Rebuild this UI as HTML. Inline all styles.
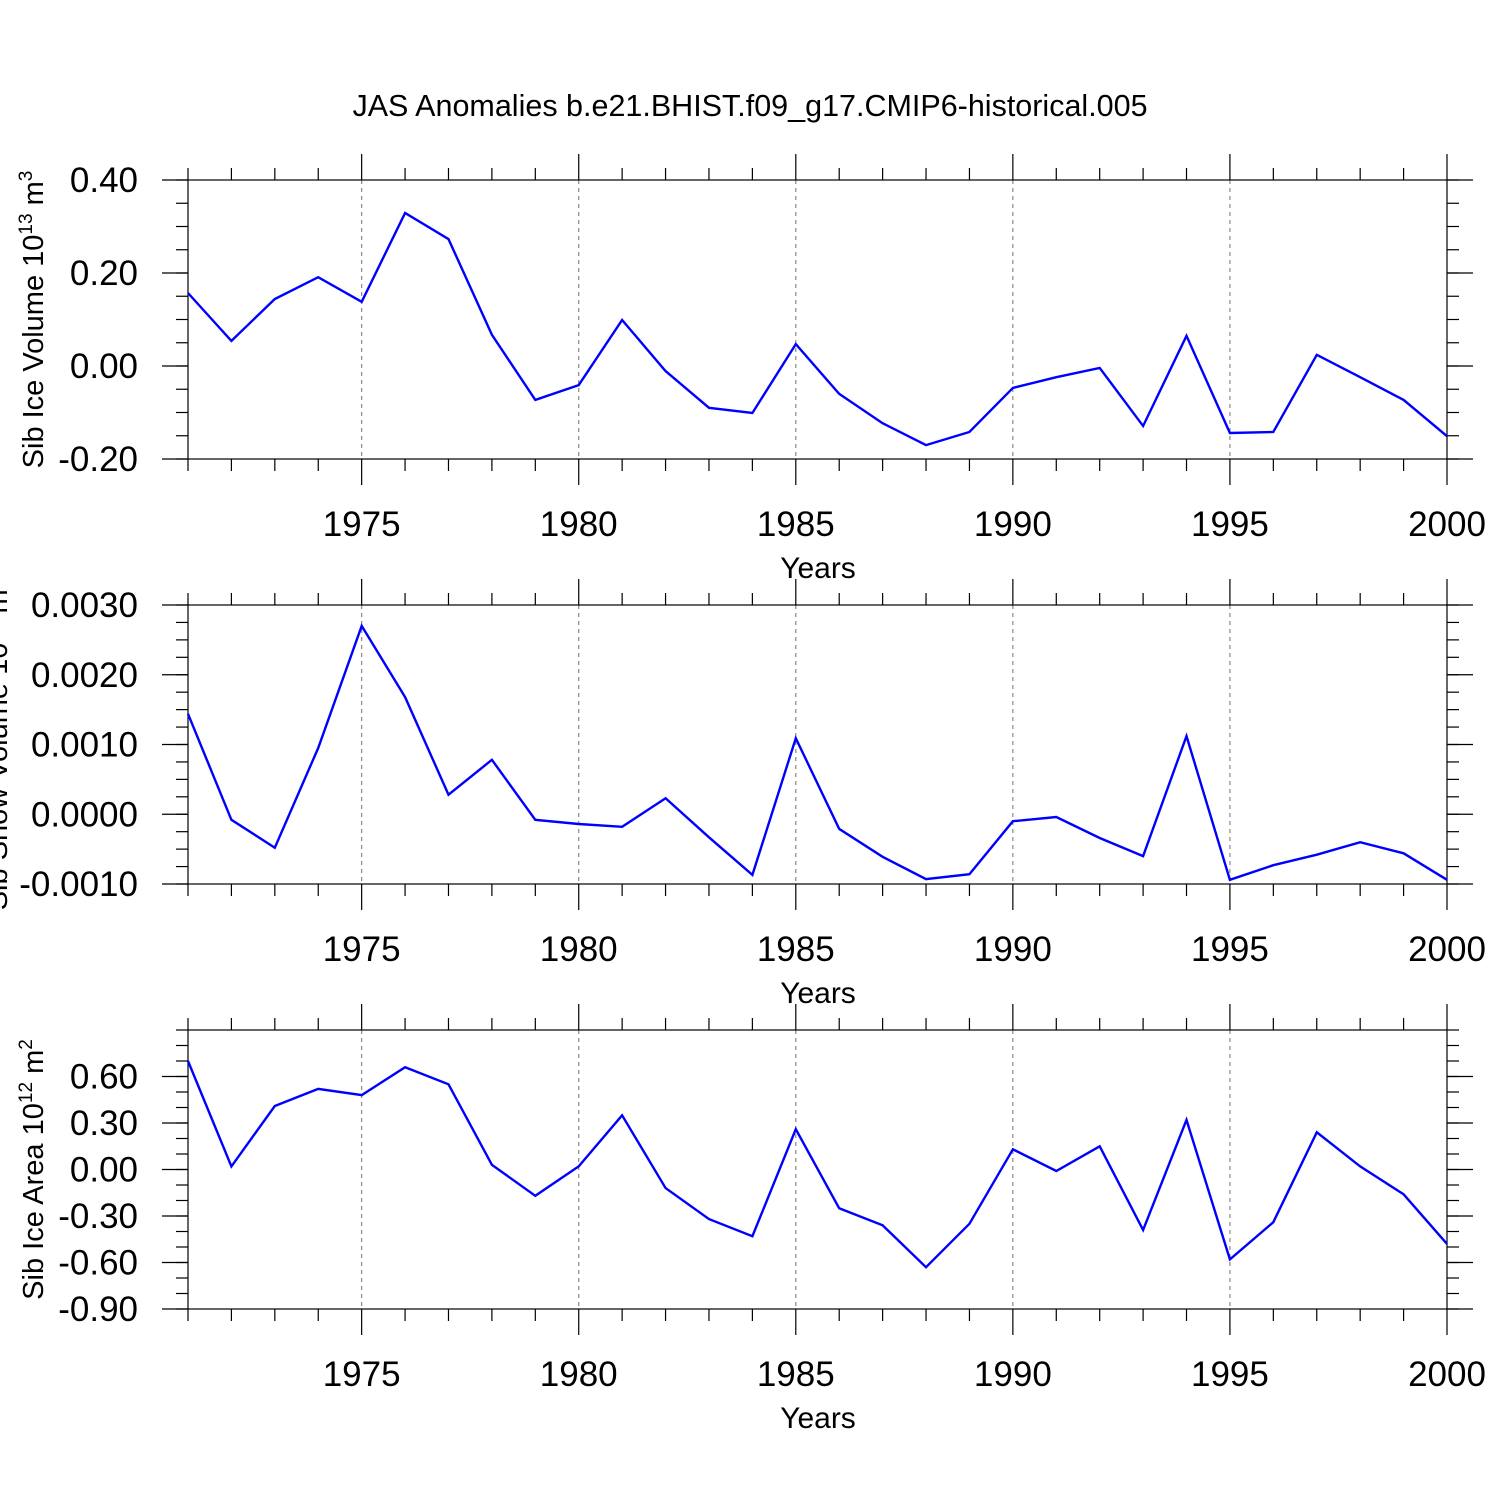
<!DOCTYPE html>
<html><head><meta charset="utf-8"><style>
html,body{margin:0;padding:0;background:#fff;}
svg{display:block;font-family:"Liberation Sans",Arial,sans-serif;}
</style></head><body>
<svg id="c" width="1500" height="1500" viewBox="0 0 1500 1500" xmlns="http://www.w3.org/2000/svg">
<text x="750" y="116" text-anchor="middle" font-size="30.5" fill="#000">JAS Anomalies b.e21.BHIST.f09_g17.CMIP6-historical.005</text>
</svg>
<script>
const years = [];
for (let y = 1971; y <= 2000; y++) years.push(y);
const iceVolume = [0.157,0.054,0.144,0.191,0.138,0.329,0.273,0.067,-0.073,-0.041,0.099,-0.011,-0.090,-0.101,0.047,-0.060,-0.123,-0.170,-0.142,-0.047,-0.024,-0.004,-0.129,0.065,-0.144,-0.142,0.024,-0.024,-0.073,-0.151];
const snowVolume = [0.00144,-0.00008,-0.00048,0.00095,0.0027,0.00168,0.00028,0.00078,-0.00008,-0.00014,-0.00018,0.00023,-0.00033,-0.00087,0.00109,-0.00021,-0.00061,-0.00093,-0.00086,-0.0001,-0.00004,-0.00034,-0.0006,0.00112,-0.00094,-0.00073,-0.00058,-0.0004,-0.00056,-0.00094];
const iceArea = [0.70,0.02,0.41,0.52,0.48,0.66,0.55,0.03,-0.17,0.02,0.35,-0.12,-0.32,-0.43,0.26,-0.25,-0.36,-0.63,-0.35,0.13,-0.01,0.15,-0.39,0.32,-0.58,-0.34,0.24,0.02,-0.16,-0.48];
const xTickLabels = [1975,1980,1985,1990,1995,2000];
const volTicks = [0.40,0.20,0.00,-0.20];
const snowTicks = [0.0030,0.0020,0.0010,0.0000,-0.0010];
const areaTicks = [0.60,0.30,0.00,-0.30,-0.60,-0.90];

const NS="http://www.w3.org/2000/svg";
const svg=document.getElementById('c');
function mk(tag,attrs,parent){const e=document.createElementNS(NS,tag);for(const k in attrs)e.setAttribute(k,attrs[k]);(parent||svg).appendChild(e);return e;}
const X0=188,X1=1447;
function xs(yr){return X0+(yr-1971)/(2000-1971)*(X1-X0);}

function panel(opt){
  const g=mk('g',{});
  
  
  const ys=v=>opt.top+(opt.ymax-v)/(opt.ymax-opt.ymin)*(opt.bot-opt.top);
  xTickLabels.forEach(yr=>{ if(yr<2000){const l=mk('line',{x1:xs(yr),x2:xs(yr),y1:opt.top,y2:opt.bot,stroke:'#888','stroke-width':1.2,'stroke-dasharray':'4,4'},g);
    }});
  const f=mk('rect',{x:X0,y:opt.top,width:X1-X0,height:opt.bot-opt.top,fill:'none',stroke:'#000','stroke-width':1.2},g);
  
  years.forEach(yr=>{const major=(yr%5===0);const L=major?26:12;const x=xs(yr);
    mk('line',{x1:x,x2:x,y1:opt.top-L,y2:opt.top,stroke:'#000','stroke-width':1.2},g);
    mk('line',{x1:x,x2:x,y1:opt.bot,y2:opt.bot+L,stroke:'#000','stroke-width':1.2},g);});
  xTickLabels.forEach(yr=>{const t=mk('text',{x:xs(yr),y:opt.bot+77,'text-anchor':'middle','font-size':35},g);t.textContent=yr;
    });
  const xt=mk('text',{x:818,y:opt.bot+119,'text-anchor':'middle','font-size':30},g);xt.textContent='Years';
  
  const n=Math.round((opt.ymax-opt.ymin)/opt.minor);
  for(let i=0;i<=n;i++){const v=opt.ymin+i*opt.minor;const y=ys(v);
    mk('line',{x1:X0-12,x2:X0,y1:y,y2:y,stroke:'#000','stroke-width':1.2},g);
    mk('line',{x1:X1,x2:X1+12,y1:y,y2:y,stroke:'#000','stroke-width':1.2},g);}
  opt.ticks.forEach(v=>{const y=ys(v);
    mk('line',{x1:X0-26,x2:X0,y1:y,y2:y,stroke:'#000','stroke-width':1.2},g);
    mk('line',{x1:X1,x2:X1+26,y1:y,y2:y,stroke:'#000','stroke-width':1.2},g);
    const t=mk('text',{x:138,y:y+12,'text-anchor':'end','font-size':35},g);t.textContent=v.toFixed(opt.dec);
    });
  const cy=(opt.top+opt.bot)/2;
  const yt=mk('text',{x:0,y:0,transform:`translate(${opt.tx},${cy}) rotate(-90)`,'text-anchor':'middle','font-size':29},g);
  
  yt.innerHTML=opt.title;
  const pts=opt.data.map((v,i)=>xs(years[i]).toFixed(1)+','+ys(v).toFixed(1)).join(' ');
  const pl=mk('polyline',{points:pts,fill:'none',stroke:'#0000ff','stroke-width':2.4,'stroke-linejoin':'miter'},g);
  
}
panel({name:'ice-volume-panel',top:180,bot:459,ymin:-0.2,ymax:0.4,minor:0.05,ticks:volTicks,dec:2,data:iceVolume,tx:43,
  title:'Sib Ice Volume 10<tspan dy="-11" font-size="19">13</tspan><tspan dy="11"> m</tspan><tspan dy="-11" font-size="19">3</tspan>'});
panel({name:'snow-volume-panel',top:605,bot:884,ymin:-0.001,ymax:0.003,minor:0.00025,ticks:snowTicks,dec:4,data:snowVolume,tx:7,
  title:'Sib Snow Volume 10<tspan dy="-11" font-size="19">13</tspan><tspan dy="11"> m</tspan><tspan dy="-11" font-size="19">3</tspan>'});
panel({name:'ice-area-panel',top:1030,bot:1309,ymin:-0.9,ymax:0.9,minor:0.1,ticks:areaTicks,dec:2,data:iceArea,tx:43,
  title:'Sib Ice Area 10<tspan dy="-11" font-size="19">12</tspan><tspan dy="11"> m</tspan><tspan dy="-11" font-size="19">2</tspan>'});
</script>
</body></html>
